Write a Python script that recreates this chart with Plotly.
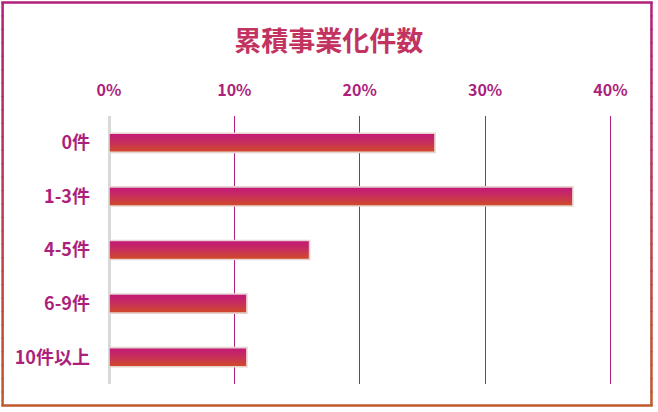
import plotly.graph_objects as go

# data
categories = ["0件", "1-3件", "4-5件", "6-9件", "10件以上"]
shares = [26, 37, 16, 11, 11]  # %
x_ticks = [0, 10, 20, 30, 40]
x_ticktext = ["0%", "10%", "20%", "30%", "40%"]
title = "累積事業化件数"

W, H = 658, 412
ML, MR, MT, MB = 109, 44.5, 116, 28
X_MAX = 40.2
FONT = "Noto Sans CJK JP"
MAGENTA = "#AD1F7C"


def lerp(c1, c2, t):
    a = [int(c1[i:i + 2], 16) for i in (1, 3, 5)]
    b = [int(c2[i:i + 2], 16) for i in (1, 3, 5)]
    return "#%02x%02x%02x" % tuple(round(a[k] + (b[k] - a[k]) * t) for k in range(3))


def px2paper(px, py):
    return (px - ML) / (W - ML - MR), (H - MB - py) / (H - MT - MB)


fig = go.Figure()

half = 0.178
for i, (cat, v) in enumerate(zip(categories, shares)):
    fig.add_trace(go.Scatter(
        x=[0, v, v, 0, 0],
        y=[i - half, i - half, i + half, i + half, i - half],
        mode="lines",
        fill="toself",
        fillgradient=dict(
            type="vertical",
            colorscale=[[0, "#D24C26"], [0.5, "#C7305A"], [1, "#C2177A"]],
        ),
        line=dict(color="#E6D3D0", width=1.6),
        name=cat,
        showlegend=False,
        hoverinfo="skip",
    ))

# gradient frame round the whole chart
x0, y0, x1, y1 = 2.5, 2.5, 652, 405.5
top_c, bot_c = "#B1207B", "#C2582B"
n = 30
shapes = []
for side_x in (x0, x1):
    for k in range(n):
        ya = y0 + (y1 - y0) * k / n - 0.6
        yb = y0 + (y1 - y0) * (k + 1) / n + 0.6
        pa = px2paper(side_x, max(ya, y0 - 1.2))
        pb = px2paper(side_x, min(yb, y1 + 1.2))
        shapes.append(dict(type="line", xref="paper", yref="paper",
                           x0=pa[0], y0=pa[1], x1=pb[0], y1=pb[1],
                           line=dict(color=lerp(top_c, bot_c, (k + 0.5) / n), width=2.5)))
for side_y, c in ((y0, top_c), (y1, bot_c)):
    pa = px2paper(x0 - 1.2, side_y)
    pb = px2paper(x1 + 1.2, side_y)
    shapes.append(dict(type="line", xref="paper", yref="paper",
                       x0=pa[0], y0=pa[1], x1=pb[0], y1=pb[1],
                       line=dict(color=c, width=2.5)))

fig.update_layout(
    width=W, height=H,
    margin=dict(l=ML, r=MR, t=MT, b=MB),
    paper_bgcolor="white",
    plot_bgcolor="white",
    font=dict(family=FONT),
    title=dict(
        text=title,
        x=(W / 2 - ML) / (W - ML - MR), xref="paper", xanchor="center",
        y=1 - 42 / H, yref="container", yanchor="middle",
        font=dict(family=FONT, size=27, color="#C3335F", weight="bold"),
    ),
    shapes=shapes,
)

fig.update_xaxes(
    side="top",
    range=[0, X_MAX],
    tickvals=x_ticks,
    ticktext=x_ticktext,
    showgrid=True,
    gridcolor=MAGENTA,
    gridwidth=1,
    zeroline=True,
    zerolinecolor="#D9D9D9",
    zerolinewidth=2.5,
    showline=False,
    ticks="",
    ticklabelstandoff=16,
    tickfont=dict(family=FONT, size=16, color=MAGENTA, weight="bold"),
    fixedrange=True,
)
fig.update_yaxes(
    range=[len(categories) - 0.5, -0.5],
    tickvals=list(range(len(categories))),
    ticktext=categories,
    showgrid=False,
    zeroline=False,
    showline=False,
    ticks="",
    ticklabelstandoff=18,
    tickfont=dict(family=FONT, size=18, color=MAGENTA, weight="bold"),
    fixedrange=True,
)

fig.write_html("out.html", config={"displayModeBar": False},
               post_script="document.body.style.margin='0';")
